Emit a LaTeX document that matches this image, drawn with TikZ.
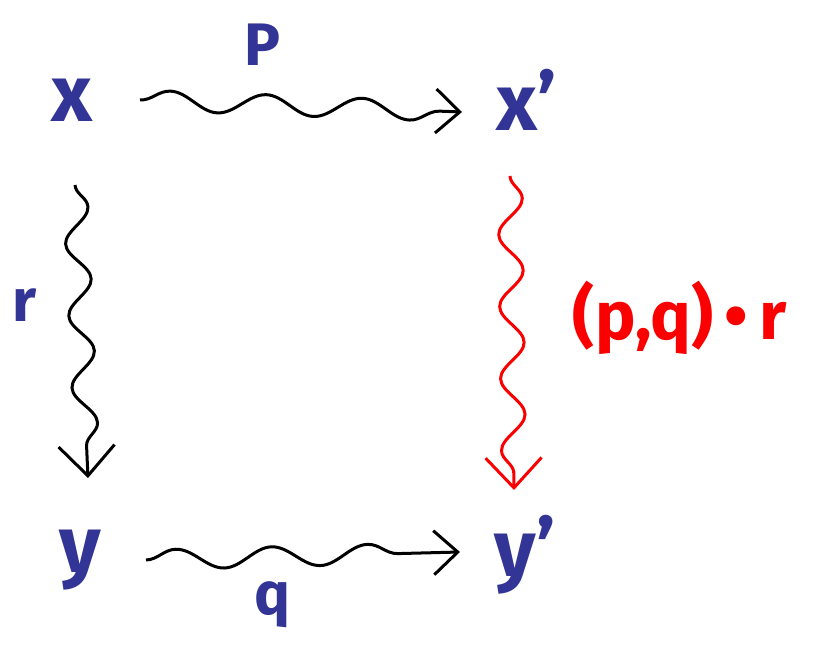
\documentclass[tikz,border=0pt]{standalone}
\usepackage{fontspec}
\setmainfont{Fira Sans}
\usetikzlibrary{decorations.pathmorphing,arrows.meta}
\definecolor{inkblue}{RGB}{50,52,150}
\definecolor{inkred}{RGB}{250,0,0}
\tikzset{
  obj/.style={text=inkblue,font=\fontsize{40}{40}\selectfont\bfseries,inner sep=0pt},
  lbl/.style={text=inkblue,font=\fontsize{30}{30}\selectfont\bfseries,inner sep=0pt},
  wig/.style={line width=1.5pt,decorate,
    decoration={snake,segment length=48pt,amplitude=5pt,post length=8pt},
    -{Straight Barb[length=12pt,width=22pt,line width=1.5pt]}},
  vwig/.style={line width=1.5pt,decorate,
    decoration={snake,segment length=36pt,amplitude=6pt,post length=8pt},
    -{Straight Barb[length=15pt,width=28pt,line width=1.5pt]}}
}
\begin{document}
\begin{tikzpicture}[x=0.5pt,y=-0.5pt]
\useasboundingbox (0,0) rectangle (814,652);
\node[obj] (x) at (72,100) {x};
\node[obj] (xp) at (527,100) {x’};
\node[obj] (y) at (80,560) {y};
\node[obj] (yp) at (525,555) {y’};
\node[lbl] (P) at (262,45) {P};
\node[lbl] (q) at (272,605) {q};
\node[lbl] (r) at (25,305) {r};
\node[text=inkred,font=\fontsize{34}{34}\selectfont\bfseries,inner sep=0pt] (pqr) at (680,318) {(p,q)\,\textbullet\,r};
\coordinate (a1) at (140,100);
\coordinate (a2) at (462,112);
\coordinate (b1) at (146,560);
\coordinate (b2) at (460,552);
\coordinate (c1) at (75,185);
\coordinate (c2) at (88,478);
\coordinate (d1) at (510,176);
\coordinate (d2) at (514,490);
\draw[wig] (a1) -- (a2);
\draw[wig] (b1) -- (b2);
\draw[vwig] (c1) -- (c2);
\draw[vwig,draw=inkred] (d1) -- (d2);
\end{tikzpicture}
\end{document}
